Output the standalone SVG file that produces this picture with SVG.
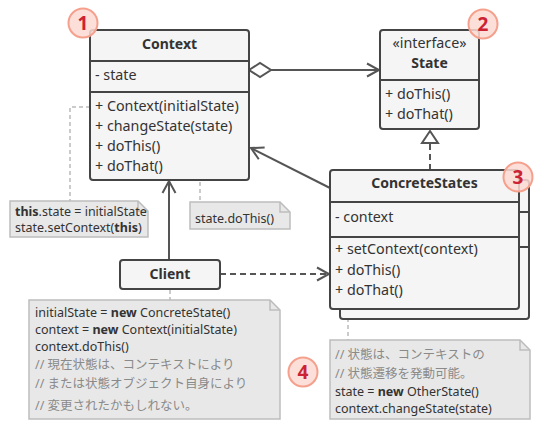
<svg xmlns="http://www.w3.org/2000/svg" width="540" height="430" viewBox="0 0 540 430">
<defs>
<style>
.box{fill:#f5f5f5;stroke:#444;stroke-width:2}
.div{stroke:#444;stroke-width:2}
.t{font-family:"Noto Sans","Open Sans",sans-serif;font-size:14.3px;fill:#333}
.b{font-weight:bold;font-size:14px}
.c{text-anchor:middle}
.note{fill:#e8e8e8;stroke:#bdbdbd;stroke-width:1.5}
.nt{font-family:"Noto Sans","Noto Sans CJK JP",sans-serif;font-size:12.5px;fill:#333}
.cm{fill:#8a8a8a}
.gd{fill:none;stroke:#bbb;stroke-width:1.5;stroke-dasharray:4,3}
.ln{fill:none;stroke:#555;stroke-width:2}
.badge{fill:#fcd9d2;fill-opacity:0.85;stroke:#f5a08c;stroke-width:2}
.bn{font-family:"Noto Sans",sans-serif;font-size:19px;font-weight:bold;fill:#cc2233;text-anchor:middle}
</style>
<marker id="open" markerUnits="userSpaceOnUse" markerWidth="16" markerHeight="16" refX="13" refY="7" orient="auto" overflow="visible">
<path d="M1,0.5 L13,7 L1,13.5" fill="none" stroke="#555" stroke-width="2"/>
</marker>
</defs>

<g id="connectors">
<path class="gd" d="M90,107 H70 V201"/>
<circle cx="173" cy="149" r="3.5" fill="none" stroke="#bbb" stroke-width="1.5"/>
<path class="gd" d="M177,149 H200 V202"/>
<path class="gd" d="M170,290 V300"/>
<path class="gd" d="M348,311 V340"/>
<line class="ln" x1="271" y1="70" x2="379" y2="70" marker-end="url(#open)"/>
<polygon points="249,70 260,63 271,70 260,77" fill="#fff" stroke="#555" stroke-width="2"/>
<line class="ln" x1="430" y1="170" x2="430" y2="142" stroke-dasharray="6,4"/>
<polygon points="430,131 422,143 438,143" fill="#fff" stroke="#555" stroke-width="2"/>
<line class="ln" x1="330" y1="188" x2="251" y2="148" marker-end="url(#open)"/>
<line class="ln" x1="169" y1="260" x2="169" y2="181" marker-end="url(#open)"/>
<line class="ln" x1="220" y1="274" x2="329" y2="274" stroke-dasharray="6,4" marker-end="url(#open)"/>
</g>

<g id="context">
<rect class="box" x="90" y="30" width="159" height="150" rx="3"/>
<line class="div" x1="90" y1="61" x2="249" y2="61"/>
<line class="div" x1="90" y1="92" x2="249" y2="92"/>
<text class="t b c" x="169.5" y="49">Context</text>
<text class="t" x="95" y="80">- state</text>
<text class="t" x="95" y="111">+ Context(initialState)</text>
<text class="t" x="95" y="131">+ changeState(state)</text>
<text class="t" x="95" y="151">+ doThis()</text>
<text class="t" x="95" y="171">+ doThat()</text>
</g>

<g id="state">
<rect class="box" x="380" y="30" width="99" height="99" rx="3"/>
<line class="div" x1="380" y1="80" x2="479" y2="80"/>
<text class="t c" x="429.5" y="48">«interface»</text>
<text class="t b c" x="429.5" y="68">State</text>
<text class="t" x="385" y="99">+ doThis()</text>
<text class="t" x="385" y="119">+ doThat()</text>
</g>

<g id="concretestates">
<rect class="box" x="340" y="180" width="189" height="139" rx="3"/>
<line class="div" x1="340" y1="212" x2="529" y2="212"/>
<line class="div" x1="340" y1="247" x2="529" y2="247"/>
<rect class="box" x="330" y="170" width="189" height="139" rx="3"/>
<line class="div" x1="330" y1="202" x2="519" y2="202"/>
<line class="div" x1="330" y1="237" x2="519" y2="237"/>
<text class="t b c" x="424.5" y="188">ConcreteStates</text>
<text class="t" x="335" y="222">- context</text>
<text class="t" x="335" y="254">+ setContext(context)</text>
<text class="t" x="335" y="275">+ doThis()</text>
<text class="t" x="335" y="295">+ doThat()</text>
</g>

<g id="client">
<rect class="box" x="120" y="260" width="100" height="29" rx="3"/>
<text class="t b c" x="170" y="279">Client</text>
</g>

<g id="note-context">
<path class="note" d="M10,201 H138 L148,211 V237 H10 Z"/>
<path d="M138,201 V211 H148" fill="none" stroke="#bdbdbd" stroke-width="1.5"/>
<text class="nt" x="15" y="216"><tspan font-weight="bold">this</tspan>.state = initialState</text>
<text class="nt" x="15" y="232">state.setContext(<tspan font-weight="bold">this</tspan>)</text>
</g>

<g id="note-dothis">
<path class="note" d="M190,202 H280 L290,212 V229 H190 Z"/>
<path d="M280,202 V212 H290" fill="none" stroke="#bdbdbd" stroke-width="1.5"/>
<text class="nt" x="195" y="223">state.doThis()</text>
</g>

<g id="note-client">
<path class="note" d="M29,300 H270 L280,310 V419 H29 Z"/>
<path d="M270,300 V310 H280" fill="none" stroke="#bdbdbd" stroke-width="1.5"/>
<text class="nt" x="35" y="317">initialState = <tspan font-weight="bold">new</tspan> ConcreteState()</text>
<text class="nt" x="35" y="334">context = <tspan font-weight="bold">new</tspan> Context(initialState)</text>
<text class="nt" x="35" y="351">context.doThis()</text>
<text class="nt cm" x="35" y="369">// 現在状態は、コンテキストにより</text>
<text class="nt cm" x="35" y="388">// または状態オブジェクト自身により</text>
<text class="nt cm" x="35" y="410">// 変更されたかもしれない。</text>
</g>

<g id="note-concrete">
<path class="note" d="M330,340 H520 L530,350 V419 H330 Z"/>
<path d="M520,340 V350 H530" fill="none" stroke="#bdbdbd" stroke-width="1.5"/>
<text class="nt cm" x="335" y="359">// 状態は、コンテキストの</text>
<text class="nt cm" x="335" y="378">// 状態遷移を発動可能。</text>
<text class="nt" x="335" y="396">state = <tspan font-weight="bold">new</tspan> OtherState()</text>
<text class="nt" x="335" y="413">context.changeState(state)</text>
</g>

<g id="badge1"><circle class="badge" cx="83" cy="23" r="14.5"/><text class="bn" x="83" y="30">1</text></g>
<g id="badge2"><circle class="badge" cx="483" cy="24" r="14.5"/><text class="bn" x="483" y="31">2</text></g>
<g id="badge3"><circle class="badge" cx="518" cy="177" r="14.5"/><text class="bn" x="518" y="184">3</text></g>
<g id="badge4"><circle class="badge" cx="303" cy="372" r="14.5"/><text class="bn" x="303" y="379">4</text></g>
</svg>
